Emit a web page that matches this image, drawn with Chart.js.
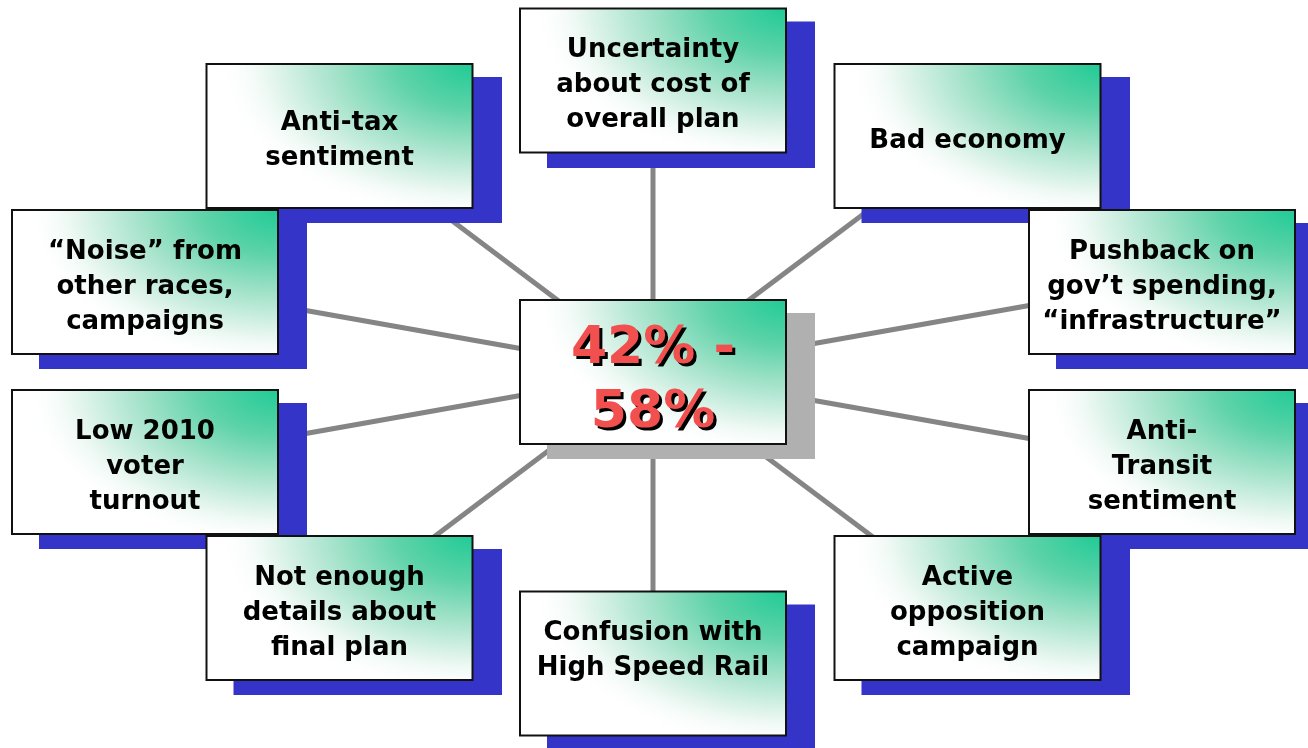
<!DOCTYPE html>
<html>
<head>
<meta charset="utf-8">
<script src="https://cdn.jsdelivr.net/npm/chart.js@4/dist/chart.umd.min.js"></script>
<style>
  html, body { margin: 0; padding: 0; background: #fff; }
  #wrap { width: 1308px; height: 748px; position: relative; }
</style>
</head>
<body>
<div id="wrap"><canvas id="myDiagram"></canvas></div>
<script>
// values

var labels = [
  ["Uncertainty", "about cost of", "overall plan"],
  ["Anti-tax", "sentiment"],
  ["Bad economy"],
  ["\u201cNoise\u201d from", "other races,", "campaigns"],
  ["Pushback on", "gov\u2019t spending,", "\u201cinfrastructure\u201d"],
  ["Low 2010", "voter", "turnout"],
  ["Anti-", "Transit", "sentiment"],
  ["Not enough", "details about", "final plan"],
  ["Active", "opposition", "campaign"],
  ["Confusion with", "High Speed Rail", ""]
];
var nodeX = [653, 339.5, 967.5, 145, 1162, 145, 1162, 339.5, 967.5, 653];
var nodeY = [80.5, 136, 136, 282, 282, 462, 462, 608, 608, 663.5];

var centerLabel = ["42% -", "58%"];
var centerX = 653;
var centerY = 372;

// box look
var BOX_W = 268, BOX_H = 146;
var SH_X = 28, SH_Y = 14;

function makeBox(shadowColor) {
  var c = document.createElement("canvas");
  c.width = BOX_W + 2 * SH_X;
  c.height = BOX_H + 2 * SH_Y;
  var g = c.getContext("2d");
  g.fillStyle = shadowColor;
  g.fillRect(2 * SH_X, 2 * SH_Y, BOX_W, BOX_H);
  g.fillStyle = "#ffffff";
  g.fillRect(SH_X, SH_Y, BOX_W, BOX_H);
  g.save();
  g.beginPath();
  g.rect(SH_X, SH_Y, BOX_W, BOX_H);
  g.clip();
  var rx = BOX_W * 0.95, ry = BOX_H * 1.08;
  g.translate(SH_X + BOX_W, SH_Y);
  g.scale(rx, ry);
  var grad = g.createRadialGradient(0, 0, 0, 0, 0, 1);
  grad.addColorStop(0, "#1fcb96");
  grad.addColorStop(0.3, "#5fd3a9");
  grad.addColorStop(0.55, "#a5e3cb");
  grad.addColorStop(0.8, "#e6f6ef");
  grad.addColorStop(1, "rgba(255,255,255,0)");
  g.fillStyle = grad;
  g.fillRect(-BOX_W / rx, 0, BOX_W / rx, BOX_H / ry);
  g.restore();
  g.strokeStyle = "#111111";
  g.lineWidth = 2;
  g.strokeRect(SH_X + 1, SH_Y + 1, BOX_W - 2, BOX_H - 2);
  return c;
}

var blueBox = makeBox("#3434c8");
var grayBox = makeBox("#b0b0b0");

// spokes from the middle box to each outer box
var datasets = [];
for (var i = 0; i < labels.length; i++) {
  datasets.push({
    data: [{x: centerX, y: centerY}, {x: nodeX[i], y: nodeY[i]}],
    showLine: true,
    borderColor: "#858585",
    borderWidth: 5,
    pointRadius: 0,
    pointHoverRadius: 0,
    order: 2
  });
}

// boxes, drawn row by row so the lower ones sit on the shadows above
var boxPoints = [], boxStyles = [];
for (var i = 0; i < labels.length; i++) {
  if (i == 5) {
    boxPoints.push({x: centerX, y: centerY});
    boxStyles.push(grayBox);
  }
  boxPoints.push({x: nodeX[i], y: nodeY[i]});
  boxStyles.push(blueBox);
}
datasets.push({
  data: boxPoints,
  pointStyle: boxStyles,
  pointRadius: 0.5,
  pointHoverRadius: 0.5,
  pointBorderWidth: 0,
  showLine: false,
  clip: false,
  order: 1
});

var boxText = {
  id: "boxText",
  afterDatasetsDraw: function(chart) {
    var ctx = chart.ctx;
    var xs = chart.scales.x, ys = chart.scales.y;
    ctx.save();
    ctx.textAlign = "center";
    ctx.textBaseline = "alphabetic";
    ctx.font = "bold 26px 'DejaVu Sans'";
    ctx.fillStyle = "#000000";
    for (var i = 0; i < labels.length; i++) {
      var px = xs.getPixelForValue(nodeX[i]);
      var py = ys.getPixelForValue(nodeY[i]);
      var n = labels[i].length;
      for (var j = 0; j < n; j++) {
        var ly = py + 2 + (j - (n - 1) / 2) * 35;
        ctx.fillText(labels[i][j], px, ly + 9.5);
      }
    }
    // middle box
    var cx = xs.getPixelForValue(centerX);
    var cy = ys.getPixelForValue(centerY);
    ctx.font = "bold 52px 'DejaVu Sans'";
    for (var j = 0; j < centerLabel.length; j++) {
      var ly = cy + 4 + (j - (centerLabel.length - 1) / 2) * 64 + 19;
      ctx.fillStyle = "#000000";
      ctx.fillText(centerLabel[j], cx + 3, ly + 3);
      ctx.fillStyle = "#f24f4f";
      ctx.fillText(centerLabel[j], cx, ly);
    }
    ctx.restore();
  }
};

var myDiagram = new Chart(document.getElementById("myDiagram"), {
  type: "scatter",
  data: { datasets: datasets },
  options: {
    responsive: true,
    maintainAspectRatio: false,
    animation: false,
    events: [],
    layout: { padding: 0, autoPadding: false },
    plugins: { legend: { display: false }, tooltip: { enabled: false } },
    scales: {
      x: { type: "linear", min: 0, max: 1308, display: false },
      y: { type: "linear", min: 0, max: 748, reverse: true, display: false }
    }
  },
  plugins: [boxText]
});
</script>
</body>
</html>
